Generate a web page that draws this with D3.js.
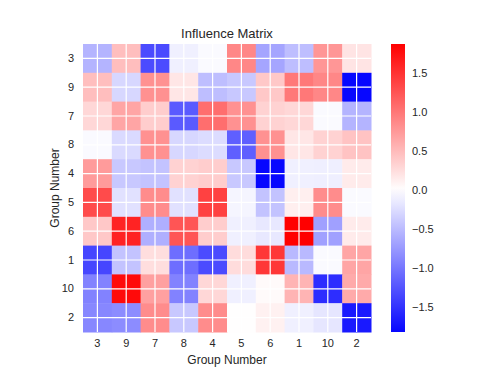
<!DOCTYPE html>
<html>
<head>
<meta charset="utf-8">
<script src="https://cdn.jsdelivr.net/npm/d3@7"></script>
<style>
  body { margin: 0; background: #fff; }
  text { font-family: "Liberation Sans", Arial, sans-serif; fill: #262626; }
</style>
</head>
<body>
<div id="chart"></div>
<script>
// group order, same on both axes
var groups = ["3", "9", "7", "8", "4", "5", "6", "1", "10", "2"];

// one row per group
var row3  = [-0.55,  0.48, -1.32, -0.11, -0.04,  0.88, -0.66, -0.48,  0.77,  0.20];
var row9  = [ 0.48, -0.29,  0.81,  0.18, -0.48, -0.40,  0.40,  0.99,  0.88, -1.82];
var row7  = [ 0.29,  0.66,  0.37, -1.21,  1.06,  0.81,  0.33,  0.29, -0.04, -0.55];
var row8  = [-0.04, -0.27,  0.81, -0.29, -0.26, -1.17,  0.81,  0.18,  0.33,  0.44];
var row4  = [ 0.73, -0.40, -0.44,  0.33,  0.37, -0.40, -1.82, -0.11, -0.12,  0.15];
var row5  = [ 1.32, -0.22,  0.84, -0.22,  1.39, -0.07, -0.44,  0.12,  0.84, -0.04];
var row6  = [ 0.40,  1.61, -0.59,  1.25,  0.37, -0.11, -0.17,  1.87, -0.70,  0.15];
var row1  = [-1.36, -0.44,  0.24, -1.06, -1.32,  0.26,  1.47, -0.51, -0.04,  0.66];
var row10 = [-0.92,  1.80,  0.70, -0.92,  0.29, -0.11,  0.04,  0.55, -1.54,  0.62];
var row2  = [-0.88, -0.84,  0.84, -0.40,  0.84,  0.01,  0.10, -0.11, -0.18, -1.69];

var rows = [row3, row9, row7, row8, row4, row5, row6, row1, row10, row2];

var cbTicks = [-1.5, -1.0, -0.5, 0.0, 0.5, 1.0, 1.5];
var vmin = -1.82, vmax = 1.87;

var W = 498, H = 374;
var mLeft = 83, mTop = 44, size = 288;

var svg = d3.select("#chart").append("svg")
    .attr("width", W)
    .attr("height", H);

var x = d3.scaleBand().domain(groups).range([mLeft, mLeft + size]);
var y = d3.scaleBand().domain(groups).range([mTop, mTop + size]);

// bwr, centred on zero
var color = d3.scaleLinear()
    .domain([-vmax, 0, vmax])
    .range(["#0000ff", "#ffffff", "#ff0000"])
    .clamp(true);

var cells = [];
rows.forEach(function (r, i) {
    r.forEach(function (v, j) {
        cells.push({ row: groups[i], col: groups[j], v: v });
    });
});

svg.append("g")
    .selectAll("rect")
    .data(cells)
    .enter()
    .append("rect")
    .attr("x", function (d) { return x(d.col); })
    .attr("y", function (d) { return y(d.row); })
    .attr("width", x.bandwidth() + 0.5)
    .attr("height", y.bandwidth() + 0.5)
    .attr("fill", function (d) { return color(d.v); });

// white grid lines through the cell centres (ticks)
var grid = svg.append("g").attr("stroke", "#fff").attr("stroke-width", 1.2);
groups.forEach(function (g) {
    var cx = x(g) + x.bandwidth() / 2;
    var cy = y(g) + y.bandwidth() / 2;
    grid.append("line").attr("x1", cx).attr("x2", cx).attr("y1", mTop).attr("y2", mTop + size);
    grid.append("line").attr("y1", cy).attr("y2", cy).attr("x1", mLeft).attr("x2", mLeft + size);
});

var xAxis = svg.append("g")
    .attr("transform", "translate(0," + (mTop + size) + ")")
    .call(d3.axisBottom(x).tickSize(0).tickPadding(7));
var yAxis = svg.append("g")
    .attr("transform", "translate(" + mLeft + ",0)")
    .call(d3.axisLeft(y).tickSize(0).tickPadding(9));
[xAxis, yAxis].forEach(function (a) {
    a.select(".domain").remove();
    a.selectAll("text").style("font-size", "11px").style("font-family", "Liberation Sans, Arial, sans-serif").attr("fill", "#262626");
});

svg.append("text")
    .attr("x", mLeft + size / 2)
    .attr("y", 38)
    .attr("text-anchor", "middle")
    .style("font-size", "13px")
    .text("Influence Matrix");

svg.append("text")
    .attr("x", mLeft + size / 2)
    .attr("y", 364)
    .attr("text-anchor", "middle")
    .style("font-size", "12px")
    .text("Group Number");

svg.append("text")
    .attr("transform", "translate(59," + (mTop + size / 2) + ") rotate(-90)")
    .attr("text-anchor", "middle")
    .style("font-size", "12px")
    .text("Group Number");

// colour bar
var cbX = 391, cbW = 14;
var cb = d3.scaleLinear().domain([vmin, vmax]).range([mTop + size, mTop]);

var defs = svg.append("defs");
var grad = defs.append("linearGradient")
    .attr("id", "cbgrad")
    .attr("x1", 0).attr("x2", 0).attr("y1", 1).attr("y2", 0);
d3.range(0, 1.0001, 0.05).forEach(function (t) {
    var v = vmin + t * (vmax - vmin);
    grad.append("stop").attr("offset", t).attr("stop-color", color(v));
});

svg.append("rect")
    .attr("x", cbX)
    .attr("y", cb(vmax))
    .attr("width", cbW)
    .attr("height", cb(vmin) - cb(vmax))
    .attr("fill", "url(#cbgrad)");

var cbAxis = svg.append("g")
    .attr("transform", "translate(" + (cbX + cbW) + ",0)")
    .call(d3.axisRight(cb).tickValues(cbTicks).tickSize(0).tickPadding(7)
        .tickFormat(function (d) { return d3.format(".1f")(d).replace("-", "\u2212"); }));
cbAxis.select(".domain").remove();
cbAxis.selectAll("text").style("font-size", "11px").style("font-family", "Liberation Sans, Arial, sans-serif").attr("fill", "#262626");
</script>
</body>
</html>
